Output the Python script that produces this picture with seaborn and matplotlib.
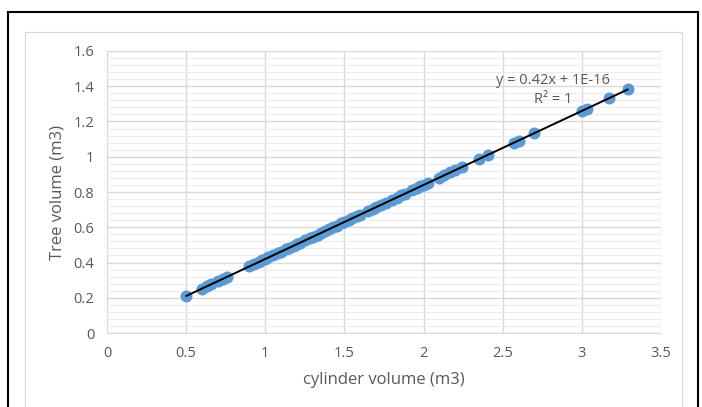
import numpy as np
import pandas as pd
import matplotlib
matplotlib.use("Agg")
import matplotlib.pyplot as plt
from matplotlib.patches import Rectangle
from matplotlib.ticker import MultipleLocator
import seaborn as sns

# cylinder volume (m3), tree volume = 0.42 * cylinder
cyl_volume = [0.50, 0.60, 0.63, 0.66, 0.70, 0.73, 0.76,
              0.90, 0.93, 0.96, 0.98, 1.00, 1.02, 1.05, 1.08, 1.10, 1.13,
              1.15, 1.18, 1.20, 1.22, 1.25, 1.28, 1.30, 1.33, 1.35, 1.38,
              1.40, 1.43, 1.45, 1.48, 1.50, 1.53, 1.55, 1.58, 1.60, 1.65,
              1.68, 1.70, 1.73, 1.76, 1.80, 1.83, 1.86, 1.88, 1.93, 1.96,
              1.98, 2.00, 2.03, 2.10, 2.13, 2.17, 2.20, 2.24, 2.35, 2.41,
              2.57, 2.60, 2.70, 3.00, 3.03, 3.17, 3.29]
tree_volume = [round(0.42 * v, 4) for v in cyl_volume]

x_ticks = [0, 0.5, 1, 1.5, 2, 2.5, 3, 3.5]
y_ticks = [0, 0.2, 0.4, 0.6, 0.8, 1, 1.2, 1.4, 1.6]

df = pd.DataFrame({"cyl": cyl_volume, "tree": tree_volume})

sns.set_style("white")
plt.rcParams["font.family"] = ["Open Sans", "DejaVu Sans"]
grey = "#595959"

fig = plt.figure(figsize=(7.02, 4.07), dpi=100)
ax = fig.add_axes([0.1524, 0.1818, 0.7892, 0.6929])

# frames round the chart
fig.patches.append(Rectangle((8 / 702, -0.05), 690 / 702, 1 - 12 / 407 + 0.05,
                             transform=fig.transFigure, fill=False,
                             edgecolor="black", linewidth=1.5))
fig.patches.append(Rectangle((25 / 702, -0.05), 657 / 702, 1 - 32 / 407 + 0.05,
                             transform=fig.transFigure, fill=False,
                             edgecolor="#d9d9d9", linewidth=0.8))

ax.yaxis.set_minor_locator(MultipleLocator(0.04))
ax.grid(True, which="major", color="#d9d9d9", linewidth=1.0)
ax.grid(True, which="minor", axis="y", color="#ececec", linewidth=0.8)
ax.set_axisbelow(True)

sns.scatterplot(data=df, x="cyl", y="tree", ax=ax, s=75, color="#5b9bd5",
                edgecolor="#5b9bd5", linewidth=0, zorder=3)

# linear trendline
slope, intercept = np.polyfit(df["cyl"], df["tree"], 1)
xs = np.array([min(cyl_volume), max(cyl_volume)])
ax.plot(xs, slope * xs + intercept, color="black", linewidth=1.4, zorder=4)

ax.set_xlim(0, 3.5)
ax.set_ylim(0, 1.6)
ax.set_xticks(x_ticks)
ax.set_yticks(y_ticks)
ax.set_xticklabels([f"{t:g}" for t in x_ticks])
ax.set_yticklabels([f"{t:g}" for t in y_ticks])
ax.tick_params(axis="both", length=0, labelsize=10.5, colors=grey, pad=9)
for s in ax.spines.values():
    s.set_visible(False)
ax.spines["bottom"].set_visible(True)
ax.spines["bottom"].set_color("#d9d9d9")

ax.set_xlabel("cylinder volume (m3)", fontsize=12, color=grey, labelpad=8)
ax.set_ylabel("Tree volume (m3)", fontsize=12, color=grey, labelpad=6)

ax.text(2.82, 1.435, "y = 0.42x + 1E-16", fontsize=10.5, color=grey, ha="center", va="center")
ax.text(2.82, 1.325, "R² = 1", fontsize=10.5, color=grey, ha="center", va="center")

fig.savefig("out.png", dpi=100)
